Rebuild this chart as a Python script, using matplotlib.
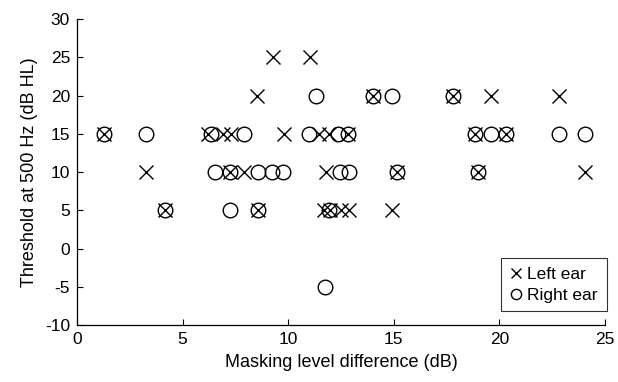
import matplotlib
matplotlib.use("Agg")
import matplotlib.pyplot as plt

plt.rcParams['font.family'] = ['Liberation Sans', 'DejaVu Sans']
plt.rcParams['axes.unicode_minus'] = False

# Left ear: masking level difference (dB) and threshold (dB HL)
left_mld = [1.3, 3.25, 4.15, 6.2, 6.9, 7.3, 7.25, 7.9, 8.55, 8.5, 9.3, 9.8,
            11.05, 11.45, 11.95, 12.85, 11.8, 11.7, 12.0, 12.5, 12.9, 14.0,
            14.9, 15.15, 17.8, 18.85, 19.0, 19.6, 20.3, 22.8, 24.05]
left_thr = [15, 10, 5, 15, 15, 15, 10, 10, 5, 20, 25, 15,
            25, 15, 15, 15, 10, 5, 5, 5, 5, 20,
            5, 10, 20, 15, 10, 20, 15, 20, 10]

# Right ear
right_mld = [1.3, 3.25, 4.15, 6.35, 7.9, 6.55, 7.25, 7.25, 8.55, 8.55, 9.25,
             9.75, 11.3, 11.0, 12.35, 12.85, 12.45, 12.9, 11.95, 11.75, 14.0,
             14.9, 15.15, 17.8, 18.85, 19.0, 19.6, 20.3, 22.8, 24.05]
right_thr = [15, 15, 5, 15, 15, 10, 10, 5, 10, 5, 10,
             10, 20, 15, 15, 15, 10, 10, 5, -5, 20,
             20, 10, 20, 15, 10, 15, 15, 15, 15]

x_ticks = [0, 5, 10, 15, 20, 25]
y_ticks = [-10, -5, 0, 5, 10, 15, 20, 25, 30]

fig = plt.figure(figsize=(6.18, 3.82), dpi=100)
ax = fig.add_axes([0.1246, 0.149, 0.8544, 0.801])

ax.plot(left_mld, left_thr, linestyle='none', marker='x', markersize=10.5,
        markeredgewidth=1.0, color='black', label='Left ear')
ax.plot(right_mld, right_thr, linestyle='none', marker='o', markersize=10.5,
        markeredgewidth=1.0, markerfacecolor='none', markeredgecolor='black',
        label='Right ear')

ax.set_xlim(0, 25)
ax.set_ylim(-10, 30)
ax.set_xticks(x_ticks)
ax.set_yticks(y_ticks)
ax.tick_params(direction='in', length=4, width=0.8, labelsize=12.5, colors='black', pad=5)
ax.spines['top'].set_visible(False)
ax.spines['right'].set_visible(False)
for s in ['left', 'bottom']:
    ax.spines[s].set_linewidth(0.9)

ax.set_xlabel('Masking level difference (dB)', fontsize=13, labelpad=5)
ax.set_ylabel('Threshold at 500 Hz (dB HL)', fontsize=13, labelpad=5)

leg = ax.legend(loc='lower right', bbox_to_anchor=(1.003, 0.045), borderaxespad=0,
                fontsize=12.5, frameon=True, fancybox=False, handlelength=0.7,
                handletextpad=0.3, borderpad=0.5, labelspacing=0.3, markerscale=0.7)
leg.get_frame().set_edgecolor('black')
leg.get_frame().set_linewidth(0.8)

fig.savefig('out.png', dpi=100)
